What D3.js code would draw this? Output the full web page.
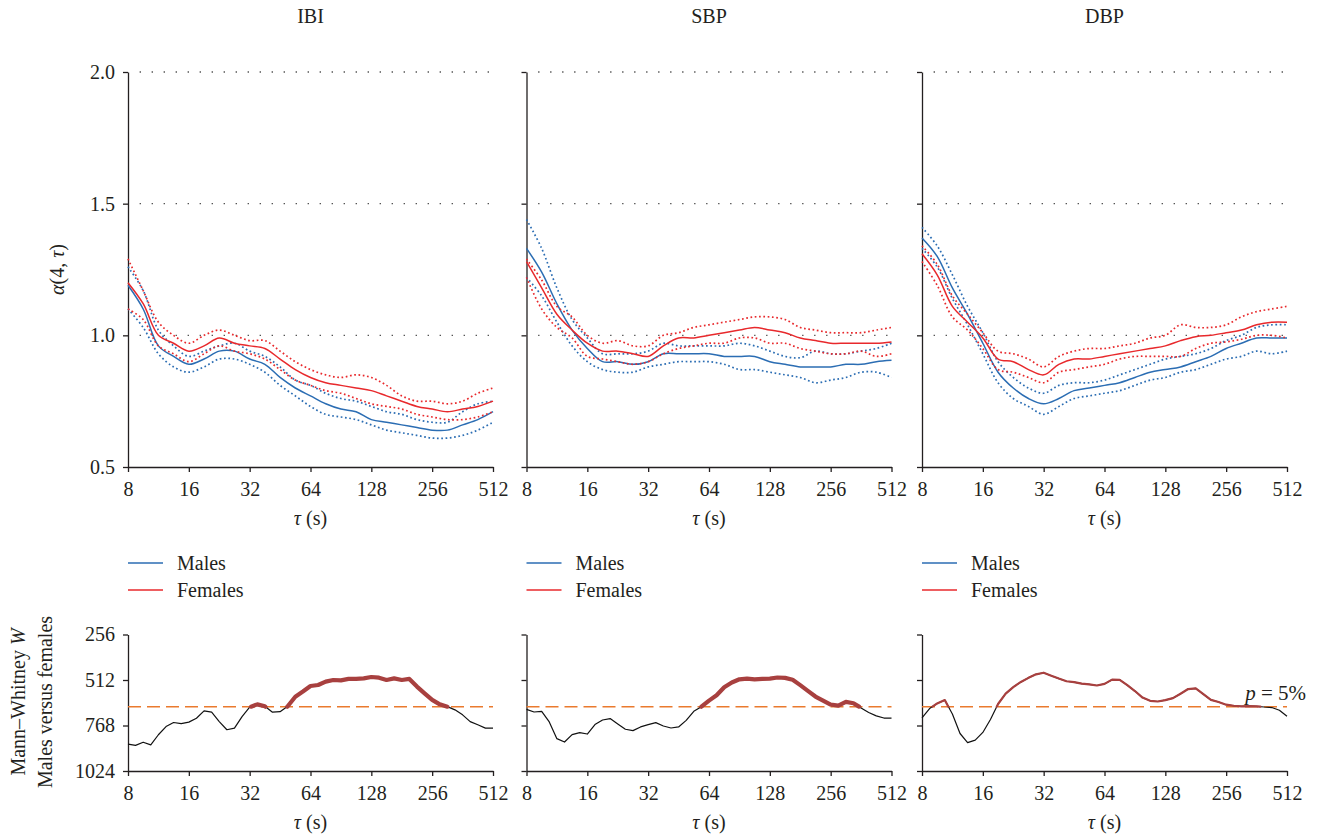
<!DOCTYPE html>
<html lang="en">
    <head>
        <meta charset="utf-8">
        <title>Multiscale DFA, males versus females</title>
        <script src="https://d3js.org/d3.v7.min.js"></script>
        <style>
            body { margin: 0; background: #fff; }
            svg { display: block; }
            text { font-family: "Liberation Serif", "DejaVu Serif", serif; fill: #231f20; }
        </style>
    </head>
    <body>
        <script type="text/javascript">
            // scales (s), quarter octave steps for the alpha curves, eighth octave for W
            var tauTop = [8, 9.51, 11.31, 13.45, 16, 19.03, 22.63, 26.91, 32, 38.05, 45.25, 53.82, 64,
                76.11, 90.51, 107.63, 128, 152.22, 181.02, 215.27, 256, 304.44, 362.04, 430.54, 512];
            var tauW = [8, 8.72, 9.51, 10.37, 11.31, 12.34, 13.45, 14.67, 16, 17.45, 19.03, 20.75, 22.63,
                24.68, 26.91, 29.34, 32, 34.9, 38.05, 41.5, 45.25, 49.35, 53.82, 58.69, 64, 69.79, 76.11,
                83, 90.51, 98.7, 107.63, 117.38, 128, 139.58, 152.22, 166, 181.02, 197.4, 215.27, 234.75,
                256, 279.17, 304.44, 331.99, 362.04, 394.81, 430.54, 469.5, 512];

            var panelNames = ["IBI", "SBP", "DBP"];
            var xTicks = [8, 16, 32, 64, 128, 256, 512];
            var alphaTicks = [0.5, 1.0, 1.5, 2.0];
            var wTicks = [256, 512, 768, 1024];
            var legendLabels = ["Males", "Females"];

            // IBI
            var ibiMale     = [1.19,1.10,0.96,0.92,0.89,0.91,0.94,0.94,0.91,0.89,0.84,0.80,0.77,0.74,0.72,0.71,0.68,0.67,0.66,0.65,0.64,0.64,0.66,0.68,0.71];
            var ibiMaleHi   = [1.26,1.17,1.02,0.96,0.92,0.94,0.96,0.97,0.94,0.92,0.88,0.83,0.81,0.78,0.76,0.75,0.73,0.71,0.70,0.68,0.67,0.67,0.71,0.74,0.75];
            var ibiMaleLo   = [1.10,1.03,0.93,0.88,0.86,0.88,0.91,0.91,0.89,0.86,0.81,0.77,0.73,0.70,0.69,0.68,0.66,0.64,0.63,0.62,0.61,0.61,0.62,0.64,0.67];
            var ibiFemale   = [1.20,1.12,1.00,0.97,0.94,0.96,0.99,0.97,0.96,0.95,0.91,0.87,0.84,0.82,0.81,0.80,0.79,0.77,0.75,0.73,0.72,0.71,0.72,0.73,0.75];
            var ibiFemaleHi = [1.29,1.17,1.05,1.00,0.97,1.00,1.02,1.00,0.98,0.98,0.94,0.90,0.87,0.85,0.84,0.85,0.84,0.81,0.77,0.75,0.75,0.74,0.75,0.78,0.80];
            var ibiFemaleLo = [1.10,1.06,0.96,0.93,0.90,0.93,0.96,0.94,0.93,0.91,0.87,0.83,0.81,0.79,0.78,0.76,0.74,0.73,0.72,0.70,0.69,0.68,0.68,0.69,0.71];

            // SBP
            var sbpMale     = [1.33,1.24,1.12,1.02,0.95,0.90,0.90,0.89,0.90,0.93,0.93,0.93,0.93,0.92,0.92,0.92,0.90,0.89,0.88,0.88,0.88,0.89,0.89,0.90,0.905];
            var sbpMaleHi   = [1.44,1.33,1.18,1.06,0.99,0.93,0.93,0.93,0.94,0.97,0.96,0.96,0.96,0.96,0.97,0.96,0.94,0.92,0.915,0.94,0.93,0.93,0.94,0.95,0.97];
            var sbpMaleLo   = [1.22,1.15,1.05,0.96,0.90,0.87,0.86,0.86,0.88,0.89,0.90,0.90,0.90,0.89,0.87,0.87,0.86,0.85,0.84,0.82,0.83,0.84,0.86,0.86,0.84];
            var sbpFemale   = [1.28,1.18,1.08,1.02,0.97,0.94,0.94,0.93,0.92,0.96,0.99,0.99,1.00,1.01,1.02,1.03,1.02,1.01,0.99,0.98,0.97,0.97,0.97,0.97,0.975];
            var sbpFemaleHi = [1.29,1.21,1.11,1.07,1.00,0.97,0.98,0.96,0.96,1.00,1.01,1.03,1.04,1.05,1.06,1.07,1.07,1.06,1.03,1.02,1.01,1.01,1.01,1.02,1.03];
            var sbpFemaleLo = [1.22,1.10,1.03,0.99,0.92,0.91,0.90,0.89,0.90,0.93,0.95,0.96,0.97,0.97,0.99,0.99,0.97,0.97,0.95,0.94,0.93,0.93,0.94,0.92,0.93];

            // DBP
            var dbpMale     = [1.37,1.30,1.18,1.08,0.97,0.86,0.80,0.76,0.74,0.76,0.79,0.80,0.81,0.82,0.84,0.86,0.87,0.88,0.90,0.92,0.95,0.97,0.99,0.99,0.99];
            var dbpMaleHi   = [1.41,1.34,1.23,1.11,1.01,0.90,0.84,0.80,0.78,0.81,0.82,0.82,0.83,0.85,0.87,0.89,0.91,0.92,0.93,0.95,0.98,1.00,1.03,1.04,1.04];
            var dbpMaleLo   = [1.33,1.26,1.14,1.04,0.93,0.82,0.76,0.73,0.70,0.73,0.76,0.77,0.78,0.79,0.81,0.83,0.84,0.86,0.87,0.89,0.91,0.92,0.94,0.93,0.94];
            var dbpFemale   = [1.31,1.23,1.11,1.05,0.99,0.91,0.90,0.87,0.85,0.89,0.91,0.91,0.92,0.93,0.94,0.95,0.96,0.98,0.995,1.00,1.01,1.02,1.04,1.05,1.05];
            var dbpFemaleHi = [1.34,1.27,1.15,1.08,1.01,0.94,0.93,0.91,0.88,0.92,0.94,0.95,0.95,0.96,0.97,0.99,1.00,1.04,1.03,1.03,1.04,1.07,1.09,1.10,1.11];
            var dbpFemaleLo = [1.28,1.19,1.07,1.02,0.95,0.87,0.86,0.84,0.82,0.86,0.87,0.88,0.89,0.91,0.92,0.92,0.92,0.92,0.95,0.97,0.975,0.985,1.00,1.00,0.99];

            // Mann-Whitney W, males versus females
            var ibiW = [873,880,862,877,820,774,751,757,749,727,686,693,746,792,783,718,665,649,660,693,690,660,606,577,546,540,521,512,514,506,506,503,495,499,512,503,512,506,549,587,624,649,662,680,708,746,764,783,783];
            var sbpW = [677,692,688,748,842,861,819,808,816,763,737,729,759,789,797,776,763,752,771,782,776,739,688,662,628,598,553,526,508,504,508,506,504,498,500,511,541,573,605,628,650,656,635,643,669,695,714,726,726];
            var dbpW = [725,673,644,625,703,813,864,850,807,734,647,589,552,523,500,480,471,488,504,519,524,532,537,543,534,510,511,541,574,611,629,633,625,614,589,563,559,592,624,636,651,657,660,659,660,664,667,682,716];
            var pThreshold = 662;

            var alphaData = [
                [ibiMale, ibiMaleHi, ibiMaleLo, ibiFemale, ibiFemaleHi, ibiFemaleLo],
                [sbpMale, sbpMaleHi, sbpMaleLo, sbpFemale, sbpFemaleHi, sbpFemaleLo],
                [dbpMale, dbpMaleHi, dbpMaleLo, dbpFemale, dbpFemaleHi, dbpFemaleLo]
            ];
            var wData = [ibiW, sbpW, dbpW];

            var blue = "#2b6db3";
            var red = "#e8292c";
            var brown = "#a8403f";
            var orange = "#ea7a2e";
            var ink = "#231f20";

            var panelLeft = [128, 526.5, 922];
            var panelWidth = 365;
            var sigWidth = [4.2, 4.2, 2.2];

            var svg = d3.select("body")
                .append("svg")
                .attr("width", 1320)
                .attr("height", 839);

            svg.append("rect").attr("width", 1320).attr("height", 839).attr("fill", "#fff");

            var yTop = d3.scaleLinear().domain([0.5, 2.0]).range([467, 72]);
            var yW = d3.scaleLinear().domain([256, 1024]).range([634.5, 771]);

            function styleAxis(g) {
                g.select(".domain").attr("stroke", ink).attr("stroke-width", 1.3);
                g.selectAll(".tick line").attr("stroke", ink).attr("stroke-width", 1.3);
                g.selectAll(".tick text")
                    .attr("font-family", "Liberation Serif, serif")
                    .attr("font-size", 20)
                    .attr("fill", ink);
            }

            function gridLines(g, x, y, values) {
                g.selectAll("line.grid")
                    .data(values)
                    .enter()
                    .append("line")
                    .attr("class", "grid")
                    .attr("x1", x.range()[0] + 1)
                    .attr("x2", x.range()[1] - 4)
                    .attr("y1", function (d) { return y(d); })
                    .attr("y2", function (d) { return y(d); })
                    .attr("stroke", "#555")
                    .attr("stroke-width", 1.3)
                    .attr("stroke-dasharray", "1.4,10.6")
                    .attr("stroke-dashoffset", -10.6);
            }

            function xAxis(g, x, yPos) {
                var ax = g.append("g")
                    .attr("transform", "translate(0," + yPos + ")")
                    .call(d3.axisBottom(x).tickValues(xTicks).tickFormat(d3.format("d")).tickSize(5).tickSizeOuter(0));
                styleAxis(ax);
                ax.selectAll(".tick text").attr("y", 29).attr("dy", 0);
                var lab = g.append("text")
                    .attr("x", (x.range()[0] + x.range()[1]) / 2)
                    .attr("y", yPos + 58)
                    .attr("text-anchor", "middle")
                    .attr("font-size", 20);
                lab.append("tspan").attr("font-style", "italic").text("τ");
                lab.append("tspan").text(" (s)");
            }

            // split the W curve into runs below the 5% threshold, cut exactly at the crossings
            function sigSegments(tau, w, thr) {
                var segs = [], cur = null;
                for (var i = 0; i < w.length; i++) {
                    var inside = w[i] <= thr;
                    if (i > 0) {
                        var prevIn = w[i - 1] <= thr;
                        if (prevIn !== inside) {
                            var t = (thr - w[i - 1]) / (w[i] - w[i - 1]);
                            var lt = Math.log2(tau[i - 1]) + t * (Math.log2(tau[i]) - Math.log2(tau[i - 1]));
                            var pt = [Math.pow(2, lt), thr];
                            if (prevIn) { cur.push(pt); segs.push(cur); cur = null; }
                            else { cur = [pt]; }
                        }
                    }
                    if (inside) {
                        if (!cur) cur = [];
                        cur.push([tau[i], w[i]]);
                    }
                }
                if (cur) segs.push(cur);
                return segs;
            }

            panelNames.forEach(function (name, p) {
                var left = panelLeft[p];
                var x = d3.scaleLog().base(2).domain([8, 512]).range([left, left + panelWidth]);
                var g = svg.append("g");

                // title
                g.append("text")
                    .attr("x", left + panelWidth / 2)
                    .attr("y", 23)
                    .attr("text-anchor", "middle")
                    .attr("font-size", 20)
                    .text(name);

                // ---- alpha panel ----
                gridLines(g, x, yTop, [1.0, 1.5, 2.0]);

                var yax = g.append("g")
                    .attr("transform", "translate(" + left + ",0)")
                    .call(d3.axisLeft(yTop).tickValues(alphaTicks)
                        .tickFormat(p === 0 ? d3.format(".1f") : function () { return ""; })
                        .tickSize(5).tickSizeOuter(0));
                styleAxis(yax);
                yax.selectAll(".tick text").attr("x", -13);
                xAxis(g, x, yTop(0.5));

                var line = d3.line()
                    .x(function (d) { return x(d[0]); })
                    .y(function (d) { return yTop(d[1]); })
                    .curve(d3.curveCatmullRom);

                var series = alphaData[p];
                var looks = [
                    { color: blue, dots: false }, { color: blue, dots: true }, { color: blue, dots: true },
                    { color: red, dots: false }, { color: red, dots: true }, { color: red, dots: true }
                ];
                series.forEach(function (vals, s) {
                    g.append("path")
                        .datum(d3.zip(tauTop, vals))
                        .attr("d", line)
                        .attr("fill", "none")
                        .attr("stroke", looks[s].color)
                        .attr("stroke-width", looks[s].dots ? 1.7 : 1.5)
                        .attr("stroke-dasharray", looks[s].dots ? "1.7,2.6" : null);
                });

                // ---- legend ----
                legendLabels.forEach(function (lbl, k) {
                    var ly = 563 + k * 27;
                    g.append("line")
                        .attr("x1", left).attr("x2", left + 35)
                        .attr("y1", ly).attr("y2", ly)
                        .attr("stroke", k === 0 ? blue : red)
                        .attr("stroke-width", 1.5);
                    g.append("text")
                        .attr("x", left + 49)
                        .attr("y", ly + 7)
                        .attr("font-size", 20)
                        .text(lbl);
                });

                // ---- Mann-Whitney panel ----
                gridLines(g, x, yW, [256, 512, 768]);
                var wax = g.append("g")
                    .attr("transform", "translate(" + left + ",0)")
                    .call(d3.axisLeft(yW).tickValues(wTicks)
                        .tickFormat(p === 0 ? d3.format("d") : function () { return ""; })
                        .tickSize(5).tickSizeOuter(0));
                styleAxis(wax);
                wax.selectAll(".tick text").attr("x", -13);
                xAxis(g, x, yW(1024));

                g.append("line")
                    .attr("x1", left).attr("x2", left + panelWidth)
                    .attr("y1", yW(pThreshold)).attr("y2", yW(pThreshold))
                    .attr("stroke", orange)
                    .attr("stroke-width", 1.5)
                    .attr("stroke-dasharray", "13,6");

                var wLine = d3.line()
                    .x(function (d) { return x(d[0]); })
                    .y(function (d) { return yW(d[1]); });

                g.append("path")
                    .datum(d3.zip(tauW, wData[p]))
                    .attr("d", wLine)
                    .attr("fill", "none")
                    .attr("stroke", "#111")
                    .attr("stroke-width", 1.2)
                    .attr("stroke-linejoin", "round");

                sigSegments(tauW, wData[p], pThreshold).forEach(function (seg) {
                    g.append("path")
                        .datum(seg)
                        .attr("d", wLine)
                        .attr("fill", "none")
                        .attr("stroke", brown)
                        .attr("stroke-width", sigWidth[p])
                        .attr("stroke-linejoin", "round")
                        .attr("stroke-linecap", "round");
                });

                if (p === 2) {
                    var pl = g.append("text")
                        .attr("x", left + panelWidth + 19)
                        .attr("y", yW(pThreshold) - 7)
                        .attr("text-anchor", "end")
                        .attr("font-size", 21);
                    pl.append("tspan").attr("font-style", "italic").text("p");
                    pl.append("tspan").text(" = 5%");
                }
            });

            // y axis titles
            var ya = svg.append("text")
                .attr("transform", "translate(64," + yTop(1.25) + ") rotate(-90)")
                .attr("text-anchor", "middle")
                .attr("font-size", 20);
            ya.append("tspan").attr("font-style", "italic").text("α");
            ya.append("tspan").text("(4, ");
            ya.append("tspan").attr("font-style", "italic").text("τ");
            ya.append("tspan").text(")");

            var yb1 = svg.append("text")
                .attr("transform", "translate(25,702) rotate(-90)")
                .attr("text-anchor", "middle")
                .attr("font-size", 20);
            yb1.append("tspan").text("Mann–Whitney ");
            yb1.append("tspan").attr("font-style", "italic").text("W");

            svg.append("text")
                .attr("transform", "translate(52,702) rotate(-90)")
                .attr("text-anchor", "middle")
                .attr("font-size", 20)
                .text("Males versus females");
        </script>
    </body>
</html>
